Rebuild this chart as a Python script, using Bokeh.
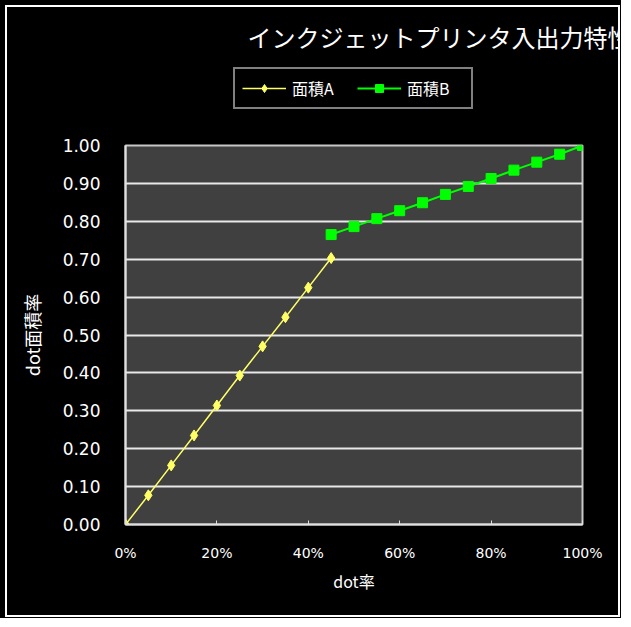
from bokeh.plotting import figure
from bokeh.layouts import column
from bokeh.models import (Range1d, NumeralTickFormatter, FixedTicker, Legend,
                          LegendItem)
from bokeh.embed import file_html
from bokeh.resources import INLINE

TITLE = "インクジェットプリンタ入出力特性"
X_LABEL = "dot率"
Y_LABEL = "dot面積率"
NAME_A = "面積A"
NAME_B = "面積B"

dot_a = [0.00, 0.05, 0.10, 0.15, 0.20, 0.25, 0.30, 0.35, 0.40, 0.45]
area_a = [0.000, 0.077, 0.156, 0.235, 0.314, 0.393, 0.470, 0.547, 0.625, 0.703]
dot_b = [0.45, 0.50, 0.55, 0.60, 0.65, 0.70, 0.75, 0.80, 0.85, 0.90, 0.95, 1.00]
area_b = [0.765, 0.786, 0.807, 0.828, 0.849, 0.871, 0.892, 0.913, 0.935, 0.956, 0.977, 1.000]
x_ticks = [0.0, 0.2, 0.4, 0.6, 0.8, 1.0]
y_ticks = [0.0, 0.1, 0.2, 0.3, 0.4, 0.5, 0.6, 0.7, 0.8, 0.9, 1.0]

FONT = "Noto Sans CJK JP"
NUM_FONT = "DejaVu Sans"
COL_A = "#ffff66"
COL_B = "#00ff00"


def draw_series(fig):
    la = fig.line(dot_a, area_a, line_color=COL_A, line_width=1.5)
    sa = fig.scatter(dot_a, area_a, marker="diamond", size=11,
                     fill_color=COL_A, line_color=COL_A)
    lb = fig.line(dot_b, area_b, line_color=COL_B, line_width=2)
    sb = fig.scatter(dot_b, area_b, marker="square", size=10,
                     fill_color=COL_B, line_color=COL_B)
    return la, sa, lb, sb


# ---- header: title + legend -------------------------------------------
h = figure(frame_width=611, frame_height=68, output_backend="svg",
           toolbar_location=None, x_axis_type=None, y_axis_type=None,
           x_range=Range1d(2, 3), y_range=Range1d(2, 3),
           min_border_left=0, min_border_right=0,
           min_border_top=51, min_border_bottom=0)
h.background_fill_color = "black"
h.border_fill_color = "black"
h.outline_line_color = None
h.xgrid.grid_line_color = None
h.ygrid.grid_line_color = None
h.title.text = TITLE
h.title.align = "left"
h.title.offset = 122
h.title.text_color = "white"
h.title.text_font = FONT
h.title.text_font_size = "24px"
h.title.text_font_style = "normal"

ha, hsa, hb, hsb = draw_series(h)
legend = Legend(items=[LegendItem(label=NAME_A, renderers=[ha, hsa]),
                       LegendItem(label=NAME_B, renderers=[hb, hsb])],
                orientation="horizontal", location=(226, 17),
                background_fill_color="black", background_fill_alpha=1,
                border_line_color="white", border_line_width=2,
                label_text_color="white", label_text_font=FONT,
                label_text_font_size="16px", label_width=57,
                label_height=20, glyph_width=44, glyph_height=20,
                spacing=8, padding=7, margin=0, label_standoff=6)
h.add_layout(legend, "center")

# ---- main chart -------------------------------------------------------
p = figure(frame_width=457, frame_height=379, output_backend="svg",
           toolbar_location=None,
           x_range=Range1d(0, 1), y_range=Range1d(0, 1),
           min_border_left=118, min_border_right=36,
           min_border_top=19, min_border_bottom=91)

p.background_fill_color = "#404040"
p.border_fill_color = "black"
p.outline_line_color = "#c8c8c8"
p.outline_line_width = 2

p.xgrid.grid_line_color = None
p.ygrid.grid_line_color = "#e8e8e8"
p.ygrid.grid_line_width = 2
p.ygrid.ticker = FixedTicker(ticks=y_ticks)

for ax in (p.xaxis[0], p.yaxis[0]):
    ax.axis_line_color = "#e0e0e0"
    ax.axis_line_width = 2
    ax.major_label_text_color = "white"
    ax.major_label_text_font = NUM_FONT
    ax.axis_label_text_color = "white"
    ax.axis_label_text_font = FONT
    ax.axis_label_text_font_style = "normal"
    ax.minor_tick_line_color = None
    ax.major_tick_line_color = "#e0e0e0"

p.xaxis.ticker = FixedTicker(ticks=x_ticks)
p.xaxis.formatter = NumeralTickFormatter(format="0%")
p.xaxis.axis_label = X_LABEL
p.xaxis.major_label_text_font_size = "14px"
p.xaxis.axis_label_text_font_size = "16px"
p.xaxis.major_tick_in = 4
p.xaxis.major_tick_out = 0
p.xaxis.major_label_standoff = 20
p.xaxis.axis_label_standoff = 5

p.yaxis.ticker = FixedTicker(ticks=y_ticks)
p.yaxis.formatter = NumeralTickFormatter(format="0.00")
p.yaxis.axis_label = Y_LABEL
p.yaxis.major_label_text_font_size = "17px"
p.yaxis.axis_label_text_font_size = "18px"
p.yaxis.major_tick_in = 0
p.yaxis.major_tick_out = 0
p.yaxis.major_label_standoff = 25
p.yaxis.axis_label_standoff = 15

draw_series(p)

chart = column(h, p, spacing=0, margin=(7, 3, 3, 7),
               styles={"outline": "2px solid white"})
page = column(chart, styles={"background-color": "black"})

open("out.html", "w").write(file_html(page, INLINE))
